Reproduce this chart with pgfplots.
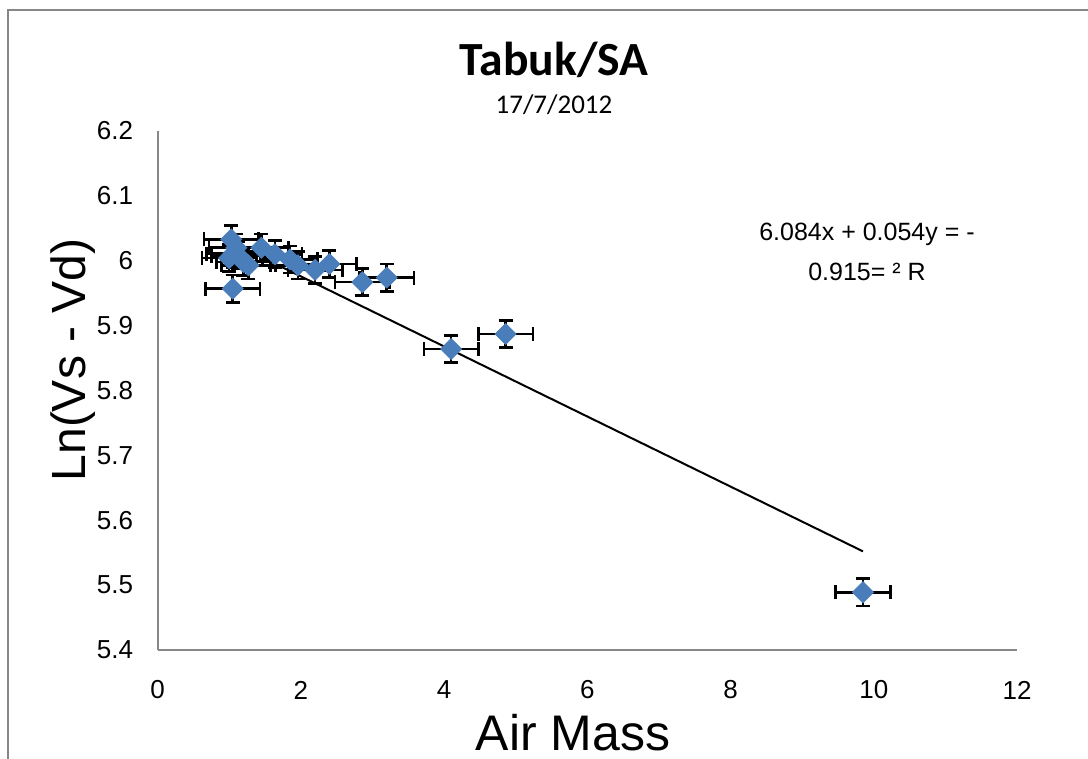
\documentclass[border=0pt]{standalone}
\usepackage{fontspec}
\setmainfont{Liberation Sans}
\newfontfamily\calibri{Carlito}
\usepackage{pgfplots}
\pgfplotsset{compat=1.18}
\definecolor{mblue}{HTML}{4A7EBB}
\definecolor{axgray}{HTML}{878787}
\begin{document}
\begin{tikzpicture}
\useasboundingbox (0,0) rectangle (544pt,379.5pt);
\fill[white] (0,0) rectangle (544pt,379.5pt);
\draw[axgray, line width=1.2pt] (4pt,0) -- (4pt,374.5pt) -- (544pt,374.5pt);
\begin{axis}[
  at={(78.75pt,54.5pt)}, anchor=south west,
  scale only axis, width=429.75pt, height=259.5pt,
  xmin=0, xmax=12, ymin=5.4, ymax=6.2,
  xtick={0,2,...,12}, ytick={5.4,5.5,...,6.2},
  axis x line*=bottom, axis y line*=left,
  axis line style={axgray, line width=1pt, -},
  major tick length=0pt,
  /pgf/number format/assume math mode=true,
  tick label style={font=\fontsize{13}{15}\selectfont, inner sep=0pt},
  xticklabel style={anchor=center, yshift=-20pt},
  yticklabel style={anchor=east, xshift=-12pt, /pgf/number format/fixed},
  clip=false,
]
% trend line
\addplot[black, line width=1pt] coordinates {(1.0,6.030) (9.85,5.552)};
% error bars
\addplot[draw=none, mark=none,
  error bars/.cd, x dir=both, x fixed=0.38, y dir=both, y fixed=0.021,
  error bar style={black, line width=1.3pt},
  error mark options={rotate=90, mark size=3.5pt, line width=1.3pt, black}]
coordinates {
(1.00,6.004) (1.03,6.033) (1.06,6.011) (1.10,6.020) (1.13,6.008)
(1.20,5.998) (1.27,5.993) (1.45,6.020) (1.64,6.010) (1.85,6.002)
(1.96,5.993) (2.20,5.986) (2.40,5.995) (2.86,5.967) (3.20,5.974)
(4.10,5.864) (4.86,5.887) (9.85,5.489) (1.05,5.957)
};
% markers
\addplot[only marks, mark=square*, mark size=3.7pt,
  mark options={rotate=45, fill=mblue, draw=mblue}]
coordinates {
(1.00,6.004) (1.03,6.033) (1.06,6.011) (1.10,6.020) (1.13,6.008)
(1.20,5.998) (1.27,5.993) (1.45,6.020) (1.64,6.010) (1.85,6.002)
(1.96,5.993) (2.20,5.986) (2.40,5.995) (2.86,5.967) (3.20,5.974)
(4.10,5.864) (4.86,5.887) (9.85,5.489) (1.05,5.957)
};
\end{axis}
\node at (277pt,349.5pt) {\calibri\bfseries\fontsize{23.8}{28}\selectfont Tabuk/SA};
\node at (277pt,327pt) {\calibri\fontsize{13.5}{16}\selectfont 17/7/2012};
\node at (286.5pt,13pt) {\fontsize{25}{29}\selectfont Air Mass};
\node[rotate=90] at (36.5pt,199.5pt) {\fontsize{24}{28}\selectfont Ln(Vs - Vd)};
\node at (433.5pt,262.5pt) {\fontsize{12.5}{15}\selectfont 6.084x + 0.054y = -};
\node at (433.5pt,243.5pt) {\fontsize{12.5}{15}\selectfont 0.915= ² R};
\end{tikzpicture}
\end{document}
